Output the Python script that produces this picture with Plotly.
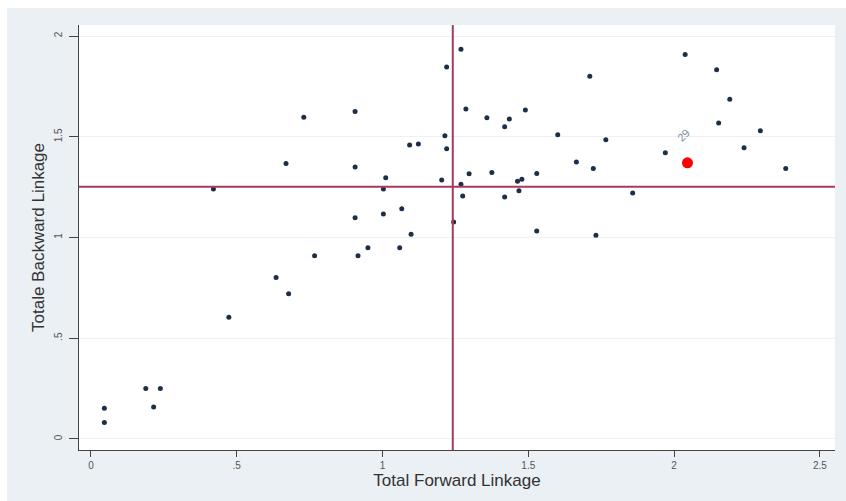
import plotly.graph_objects as go

# Total forward linkage (x) and total backward linkage (y) per sector
forward = [0.046, 0.046, 0.188, 0.238, 0.215, 0.420, 0.473, 0.635, 0.678, 0.669,
           0.730, 0.767, 0.906, 0.906, 0.906, 0.916, 0.950, 1.003, 1.003, 1.011,
           1.059, 1.066, 1.093, 1.098, 1.123, 1.203, 1.214, 1.220, 1.220, 1.244,
           1.269, 1.269, 1.275, 1.286, 1.297, 1.358, 1.375, 1.419, 1.419, 1.435,
           1.463, 1.468, 1.478, 1.490, 1.529, 1.529, 1.601, 1.665, 1.711, 1.723,
           1.732, 1.766, 1.858, 1.970, 2.038, 2.146, 2.153, 2.191, 2.240, 2.296,
           2.383]
backward = [0.152, 0.081, 0.250, 0.250, 0.159, 1.241, 0.604, 0.801, 0.721, 1.368,
            1.597, 0.910, 1.626, 1.350, 1.098, 0.910, 0.949, 1.241, 1.117, 1.297,
            0.949, 1.143, 1.459, 1.016, 1.464, 1.285, 1.505, 1.441, 1.846, 1.077,
            1.935, 1.264, 1.206, 1.638, 1.317, 1.595, 1.323, 1.550, 1.201, 1.588,
            1.279, 1.232, 1.289, 1.633, 1.318, 1.032, 1.510, 1.375, 1.801, 1.343,
            1.011, 1.485, 1.221, 1.421, 1.909, 1.833, 1.568, 1.686, 1.446, 1.530,
            1.343]

# Highlighted sector
highlight_x = [2.046]
highlight_y = [1.371]
highlight_label = ["29"]

# Mean reference lines
mean_forward = 1.241
mean_backward = 1.252

x_tickvals = [0, 0.5, 1, 1.5, 2, 2.5]
x_ticktext = ["0", ".5", "1", "1.5", "2", "2.5"]
y_tickvals = [0, 0.5, 1, 1.5, 2]
y_ticktext = ["0", ".5", "1", "1.5", "2"]

FONT = "Liberation Sans, Arial, sans-serif"
LINE_RED = "#a83a5c"

fig = go.Figure()
fig.add_trace(go.Scatter(
    x=forward, y=backward, mode="markers",
    marker=dict(size=5, color="#1c2e48", line=dict(width=0)),
    showlegend=False, hoverinfo="x+y"))
fig.add_trace(go.Scatter(
    x=highlight_x, y=highlight_y, mode="markers",
    marker=dict(size=11, color="#ff0000", line=dict(width=0)),
    showlegend=False))

for hx, hy, lab in zip(highlight_x, highlight_y, highlight_label):
    fig.add_annotation(x=hx, y=hy, text=lab, showarrow=False,
                       textangle=-45, xshift=-4, yshift=28,
                       font=dict(family=FONT, size=11, color="#7a8ca3"))

fig.add_vline(x=mean_forward, line=dict(color=LINE_RED, width=2))
fig.add_hline(y=mean_backward, line=dict(color=LINE_RED, width=2))

# thin white border strips at the top and left of the light background
PLOT_W, PLOT_H = 756, 425
fig.add_shape(type="rect", xref="paper", yref="paper",
              x0=-80 / PLOT_W, x1=-72 / PLOT_W, y0=-60 / PLOT_H, y1=460 / PLOT_H,
              fillcolor="white", line=dict(width=0), layer="below")
fig.add_shape(type="rect", xref="paper", yref="paper",
              x0=-80 / PLOT_W, x1=40 / PLOT_W + 1, y0=442 / PLOT_H, y1=460 / PLOT_H,
              fillcolor="white", line=dict(width=0), layer="below")

fig.update_layout(
    width=860, height=501,
    margin=dict(l=79, r=25, t=25, b=51),
    paper_bgcolor="#eaf0f3",
    plot_bgcolor="white",
    font=dict(family=FONT, color="#333333"),
    xaxis=dict(
        range=[-0.041, 2.552], tickvals=x_tickvals, ticktext=x_ticktext,
        showgrid=False, zeroline=False, showline=True, linecolor="#444444",
        linewidth=1, ticks="outside", ticklen=6, tickcolor="#444444",
        tickfont=dict(size=10, color="#555555"),
        title=dict(text="Total Forward Linkage", standoff=2,
                   font=dict(size=17, color="#333333"))),
    yaxis=dict(
        range=[-0.055, 2.055], tickvals=y_tickvals, ticktext=y_ticktext,
        showgrid=True, gridcolor="#eef1f3", gridwidth=1,
        zeroline=False, showline=True, linecolor="#444444",
        linewidth=1, ticks="outside", ticklen=9, tickcolor="#444444",
        ticklabelstandoff=3,
        tickangle=-90, tickfont=dict(size=10, color="#555555"),
        title=dict(text="Totale Backward Linkage", standoff=4,
                   font=dict(size=17, color="#333333"))),
)

fig.write_html("out.html",
               config={"displayModeBar": False},
               post_script="document.body.style.margin='0';"
                           "document.documentElement.style.overflow='hidden';")
